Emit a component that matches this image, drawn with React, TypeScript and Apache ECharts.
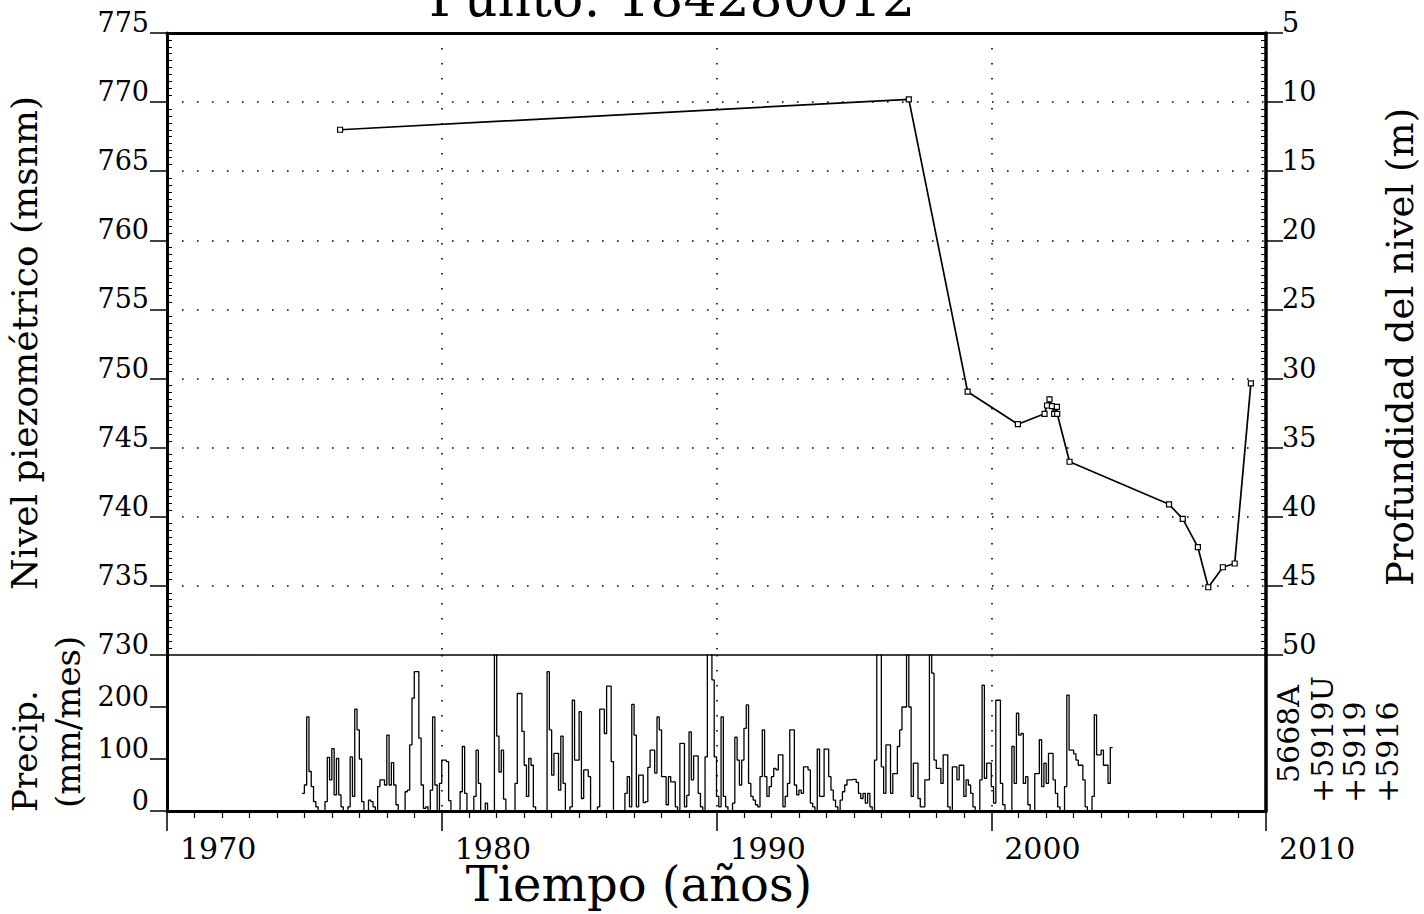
import { useEffect, useRef } from "react";
import * as echarts from "echarts";

// ---------- texts ----------
const TITLE = "Punto: 184280012";
const X_TITLE = "Tiempo (años)";
const Y_LEFT_TITLE = "Nivel piezométrico (msnm)";
const Y_RIGHT_TITLE = "Profundidad del nivel (m)";
const PRECIP_TITLE = ["Precip.", "(mm/mes)"];
const STATIONS = ["5668A", "+5919U", "+5919", "+5916"];

// ---------- axes ----------
const YEAR_MIN = 1970;
const YEAR_MAX = 2010;
const YEAR_STEP = 10;
const LEVEL_MIN = 730;
const LEVEL_MAX = 775;
const LEVEL_STEP = 5;
const DEPTH_MIN = 5;
const DEPTH_MAX = 50;
const PRECIP_MIN = 0;
const PRECIP_MAX = 300;
const PRECIP_STEP = 100;

// ---------- piezometric level (year, m a.s.l.) ----------
const LEVEL_YEARS = [
  1976.3, 1997.0, 1999.14, 2000.97, 2001.94, 2002.03, 2002.12, 2002.21, 2002.29,
  2002.39, 2002.4, 2002.85, 2006.47, 2006.97, 2007.52, 2007.9, 2008.43, 2008.86, 2009.45,
];
const LEVEL_M = [
  768.0, 770.2, 749.05, 746.7, 747.45, 748.05, 748.5, 748.0, 747.45,
  747.95, 747.45, 743.98, 740.9, 739.85, 737.8, 734.9, 736.35, 736.62, 749.65,
];

// ---------- monthly precipitation (mm/month), first month Dec 1974 ----------
const PRECIP_START = 1974 + 11 / 12;
const PRECIP_MM = [
  34, 50, 181, 76, 47, 18, 8, 0, 0, 0,
  18, 103, 60, 120, 31, 101, 31, 8, 0, 0,
  8, 104, 28, 196, 156, 100, 18, 0, 0, 21,
  18, 8, 0, 47, 60, 60, 50, 146, 50, 93,
  50, 12, 0, 0, 0, 37, 40, 127, 217, 268,
  268, 140, 50, 5, 8, 0, 40, 181, 50, 0,
  53, 98, 98, 95, 20, 0, 0, 0, 0, 37,
  124, 34, 0, 0, 0, 28, 117, 53, 0, 0,
  15, 0, 0, 0, 330, 144, 75, 117, 23, 0,
  0, 0, 0, 53, 226, 226, 153, 88, 28, 101,
  88, 8, 0, 0, 0, 0, 0, 268, 156, 69,
  111, 111, 40, 144, 53, 0, 0, 8, 213, 98,
  98, 191, 24, 79, 79, 66, 0, 0, 0, 8,
  196, 196, 149, 240, 240, 95, 0, 0, 0, 0,
  0, 34, 66, 8, 205, 146, 8, 69, 69, 16,
  18, 84, 117, 117, 73, 181, 156, 66, 66, 12,
  66, 56, 56, 8, 0, 130, 130, 8, 30, 152,
  60, 106, 106, 34, 8, 0, 104, 330, 330, 252,
  104, 28, 8, 181, 28, 8, 0, 0, 15, 142,
  98, 50, 98, 159, 204, 53, 28, 21, 12, 8,
  66, 156, 66, 28, 47, 66, 82, 79, 108, 108,
  8, 28, 53, 156, 156, 50, 31, 40, 34, 85,
  85, 79, 15, 8, 0, 119, 28, 28, 119, 119,
  66, 40, 21, 8, 0, 21, 37, 50, 60, 60,
  61, 61, 55, 34, 24, 34, 15, 34, 8, 0,
  98, 330, 330, 85, 34, 127, 127, 34, 72, 72,
  124, 156, 200, 200, 330, 200, 28, 92, 92, 24,
  8, 8, 60, 60, 330, 265, 98, 82, 82, 53,
  108, 108, 8, 0, 85, 85, 60, 88, 88, 28,
  60, 50, 34, 8, 0, 0, 60, 242, 63, 92,
  92, 47, 15, 213, 213, 53, 12, 0, 0, 0,
  124, 53, 188, 146, 149, 53, 66, 12, 0, 0,
  72, 72, 137, 47, 92, 53, 111, 111, 60, 34,
  8, 0, 0, 47, 223, 117, 117, 110, 98, 88,
  88, 60, 8, 0, 0, 28, 185, 108, 108, 117,
  88, 88, 53, 122,
];

const FONT = "'DejaVu Serif', serif";
const BLACK = "#000";

export default function App() {
  const ref = useRef<HTMLDivElement>(null);

  useEffect(() => {
    if (!ref.current) return;
    const chart = echarts.init(ref.current, null, { renderer: "svg" });

    const levelData = LEVEL_YEARS.map((y, i) => [y, LEVEL_M[i]]);
    const precipData = PRECIP_MM.map((v, i) => [PRECIP_START + i / 12, v]);
    precipData.push([
      PRECIP_START + PRECIP_MM.length / 12,
      PRECIP_MM[PRECIP_MM.length - 1],
    ]);

    const dotted = { color: BLACK, width: 1.6, type: [1.6, 13.4] as number[] };
    const plain = (v: number) => String(v);
    const label = (size: number) => ({
      fontFamily: FONT,
      fontSize: size,
      color: BLACK,
      formatter: plain,
    });

    const textEl = (
      text: string,
      x: number,
      y: number,
      size: number,
      align: string,
      rotation = 0,
      lineHeight?: number
    ) => ({
      type: "text",
      x,
      y,
      rotation,
      silent: true,
      style: {
        text,
        fontFamily: FONT,
        fontSize: size,
        fill: BLACK,
        align,
        verticalAlign: "middle",
        ...(lineHeight ? { lineHeight } : {}),
      },
    });

    const stationX = [1288, 1322, 1354, 1387];
    const stationY = [783, 803, 803, 803];

    const option: any = {
      animation: false,
      backgroundColor: "#fff",
      grid: [
        { left: 167, right: 158, top: 33, height: 622 },
        { left: 167, right: 158, top: 655, height: 156 },
      ],
      xAxis: [
        {
          gridIndex: 0,
          type: "value",
          position: "bottom",
          min: YEAR_MIN,
          max: YEAR_MAX,
          interval: YEAR_STEP,
          axisLine: { show: true, onZero: false, lineStyle: { color: BLACK, width: 1.6 } },
          axisTick: { show: false },
          axisLabel: { show: false },
          splitLine: { show: true, showMinLine: false, showMaxLine: false, lineStyle: dotted },
        },
        {
          gridIndex: 0,
          type: "value",
          position: "top",
          min: YEAR_MIN,
          max: YEAR_MAX,
          interval: YEAR_STEP,
          axisLine: { show: true, onZero: false, lineStyle: { color: BLACK, width: 3 } },
          axisTick: { show: false },
          axisLabel: { show: false },
          splitLine: { show: false },
        },
        {
          gridIndex: 1,
          type: "value",
          position: "bottom",
          min: YEAR_MIN,
          max: YEAR_MAX,
          interval: YEAR_STEP,
          axisLine: { show: true, onZero: false, lineStyle: { color: BLACK, width: 3 } },
          axisTick: { show: true, length: 20, lineStyle: { color: BLACK, width: 1.5 } },
          minorTick: { show: true, splitNumber: 10, length: 7, lineStyle: { color: BLACK, width: 1.2 } },
          axisLabel: {
            ...label(30),
            align: "left",
            padding: [0, 0, 0, 13],
            margin: 25,
            lineHeight: 24,
          },
          splitLine: { show: true, showMinLine: false, showMaxLine: false, lineStyle: dotted },
        },
      ],
      yAxis: [
        {
          gridIndex: 0,
          type: "value",
          position: "left",
          min: LEVEL_MIN,
          max: LEVEL_MAX,
          interval: LEVEL_STEP,
          axisLine: { show: true, lineStyle: { color: BLACK, width: 3 } },
          axisTick: { show: true, length: 17, lineStyle: { color: BLACK, width: 1.5 } },
          axisLabel: { ...label(27), margin: 18, verticalAlign: "bottom", lineHeight: 21 },
          splitLine: { show: true, showMinLine: false, showMaxLine: false, lineStyle: dotted },
        },
        {
          gridIndex: 0,
          type: "value",
          position: "right",
          inverse: true,
          min: DEPTH_MIN,
          max: DEPTH_MAX,
          interval: LEVEL_STEP,
          axisLine: { show: true, lineStyle: { color: BLACK, width: 3.5 } },
          axisTick: { show: true, length: 17, lineStyle: { color: BLACK, width: 1.5 } },
          axisLabel: { ...label(27), margin: 16, verticalAlign: "bottom", lineHeight: 21 },
          splitLine: { show: false },
        },
        {
          gridIndex: 0,
          type: "value",
          position: "left",
          min: LEVEL_MIN,
          max: LEVEL_MAX,
          interval: LEVEL_STEP,
          axisLine: { show: false },
          axisTick: { show: false, inside: true },
          minorTick: { show: true, splitNumber: 10, length: 5, lineStyle: { color: BLACK, width: 1 } },
          axisLabel: { show: false },
          splitLine: { show: false },
        },
        {
          gridIndex: 0,
          type: "value",
          position: "right",
          inverse: true,
          min: DEPTH_MIN,
          max: DEPTH_MAX,
          interval: LEVEL_STEP,
          axisLine: { show: false },
          axisTick: { show: false, inside: true },
          minorTick: { show: true, splitNumber: 10, length: 5, lineStyle: { color: BLACK, width: 1 } },
          axisLabel: { show: false },
          splitLine: { show: false },
        },
        {
          gridIndex: 1,
          type: "value",
          position: "left",
          min: PRECIP_MIN,
          max: PRECIP_MAX,
          interval: PRECIP_STEP,
          axisLine: { show: true, lineStyle: { color: BLACK, width: 3 } },
          axisTick: { show: true, length: 17, lineStyle: { color: BLACK, width: 1.5 } },
          axisLabel: { ...label(27), margin: 18, verticalAlign: "bottom", lineHeight: 21, showMaxLabel: false },
          splitLine: { show: false },
        },
        {
          gridIndex: 1,
          type: "value",
          position: "right",
          min: PRECIP_MIN,
          max: PRECIP_MAX,
          interval: PRECIP_STEP,
          axisLine: { show: true, lineStyle: { color: BLACK, width: 3.5 } },
          axisTick: { show: false },
          axisLabel: { show: false },
          splitLine: { show: false },
        },
      ],
      series: [
        {
          type: "line",
          xAxisIndex: 0,
          yAxisIndex: 0,
          data: levelData,
          symbol: "rect",
          symbolSize: 5,
          showSymbol: true,
          lineStyle: { color: BLACK, width: 1.7 },
          itemStyle: { color: "#fff", borderColor: BLACK, borderWidth: 1.2 },
          z: 5,
        },
        {
          type: "line",
          xAxisIndex: 2,
          yAxisIndex: 4,
          data: precipData,
          step: "end",
          showSymbol: false,
          symbol: "none",
          clip: true,
          lineStyle: { color: BLACK, width: 1.3 },
          z: 4,
        },
      ],
      graphic: [
        textEl(TITLE, 672, -2, 52, "center"),
        textEl(X_TITLE, 639, 884, 48, "center", 0, 34),
        textEl(Y_LEFT_TITLE, 24, 343, 36, "center", Math.PI / 2),
        textEl(Y_RIGHT_TITLE, 1400, 347, 37, "center", Math.PI / 2),
        textEl(PRECIP_TITLE[0], 25, 812, 34, "left", Math.PI / 2),
        textEl(PRECIP_TITLE[1], 68, 808, 34, "left", Math.PI / 2),
        ...STATIONS.map((s, i) => textEl(s, stationX[i], stationY[i], 30, "left", Math.PI / 2)),
      ],
    };

    chart.setOption(option);
    return () => chart.dispose();
  }, []);

  return (
    <div
      ref={ref}
      style={{
        position: "fixed",
        left: 0,
        top: 0,
        width: 1424,
        height: 914,
        background: "#fff",
      }}
    />
  );
}
